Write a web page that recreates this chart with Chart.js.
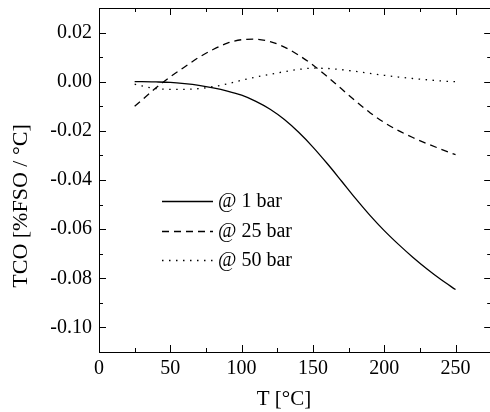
<!DOCTYPE html>
<html>
<head>
<meta charset="utf-8">
<script src="https://cdn.jsdelivr.net/npm/chart.js@4/dist/chart.umd.min.js"></script>
<style>
  html, body { margin: 0; padding: 0; background: #fff; overflow: hidden; }
  #wrap { width: 496px; height: 412px; position: relative; }
</style>
</head>
<body>
<div id="wrap"><canvas id="c"></canvas></div>
<script>
// ---- data ----
const temps = [25,30,40,50,60,70,80,90,100,110,120,130,140,150,160,170,180,190,200,210,220,230,240,250];
const tco1bar  = [0.0000,0.0000,-0.0001,-0.0003,-0.0008,-0.0015,-0.0025,-0.0038,-0.0055,-0.0080,-0.0112,-0.0154,-0.0206,-0.0266,-0.0333,-0.0404,-0.0476,-0.0544,-0.0606,-0.0662,-0.0714,-0.0762,-0.0806,-0.0846];
const tco25bar = [-0.0100,-0.0075,-0.0025,0.0020,0.0060,0.0099,0.0131,0.0157,0.0171,0.0173,0.0163,0.0141,0.0108,0.0068,0.0021,-0.0029,-0.0079,-0.0126,-0.0166,-0.0199,-0.0227,-0.0252,-0.0275,-0.0297];
const tco50bar = [-0.0010,-0.0017,-0.0028,-0.0031,-0.0031,-0.0028,-0.0020,-0.0009,0.0006,0.0019,0.0030,0.0041,0.0050,0.0055,0.0054,0.0049,0.0042,0.0034,0.0026,0.0019,0.0013,0.0008,0.0003,0.0000];
const seriesLabels = ['@ 1 bar', '@ 25 bar', '@ 50 bar'];
const xTicks = [0,50,100,150,200,250];
const xMinorTicks = [25,75,125,175,225];
const yTicks = [0.02,0.00,-0.02,-0.04,-0.06,-0.08,-0.10];
const yMinorTicks = [0.03,0.01,-0.01,-0.03,-0.05,-0.07,-0.09];
const xTitle = 'T [°C]';
const yTitle = 'TCO [%FSO / °C]';

const FONT = '"Liberation Serif", "DejaVu Serif", serif';

const toPts = (ys) => temps.map((t, i) => ({x: t, y: ys[i]}));

const frame = {
  id: 'frame',
  afterDraw(chart) {
    const {ctx, chartArea: a, scales} = chart;
    const xs = scales.x, ys = scales.y;
    ctx.save();
    ctx.strokeStyle = '#000';
    ctx.lineWidth = 1;
    ctx.strokeRect(Math.round(a.left) + 0.5, Math.round(a.top) + 0.5,
                   Math.round(a.right - a.left), Math.round(a.bottom - a.top));
    const tick = (v, len, axis) => {
      ctx.beginPath();
      if (axis === 'x') {
        const p = Math.round(xs.getPixelForValue(v)) + 0.5;
        ctx.moveTo(p, a.bottom); ctx.lineTo(p, a.bottom - len);
        ctx.moveTo(p, a.top); ctx.lineTo(p, a.top + len);
      } else {
        const p = Math.round(ys.getPixelForValue(v)) + 0.5;
        ctx.moveTo(a.left, p); ctx.lineTo(a.left + len, p);
        ctx.moveTo(a.right, p); ctx.lineTo(a.right - len, p);
      }
      ctx.stroke();
    };
    xTicks.forEach(v => tick(v, 7, 'x'));
    xMinorTicks.forEach(v => tick(v, 4, 'x'));
    yTicks.forEach(v => tick(v, 7, 'y'));
    yMinorTicks.forEach(v => tick(v, 4, 'y'));

    // axis titles
    ctx.fillStyle = '#000';
    ctx.font = '21px ' + FONT;
    ctx.textAlign = 'center';
    ctx.textBaseline = 'alphabetic';
    ctx.fillText(xTitle, 284, 405);
    ctx.save();
    ctx.translate(27, 206);
    ctx.rotate(-Math.PI / 2);
    ctx.font = '22px ' + FONT;
    ctx.fillText(yTitle, 0, 0);
    ctx.restore();

    // legend
    const rows = [201, 231, 260];
    chart.data.datasets.forEach((ds, i) => {
      ctx.save();
      ctx.strokeStyle = ds.borderColor;
      ctx.lineWidth = ds.borderWidth;
      ctx.setLineDash(ds.borderDash || []);
      ctx.beginPath();
      ctx.moveTo(162, rows[i] + 0.5);
      ctx.lineTo(213, rows[i] + 0.5);
      ctx.stroke();
      ctx.restore();
      ctx.font = '20px ' + FONT;
      ctx.textAlign = 'left';
      ctx.textBaseline = 'middle';
      ctx.fillText(ds.label, 218, rows[i] + 1);
    });
    ctx.restore();
  }
};

new Chart(document.getElementById('c'), {
  type: 'line',
  data: {
    datasets: [
      { label: seriesLabels[0], data: toPts(tco1bar),  borderColor: '#000', borderWidth: 1.3, borderDash: [], pointRadius: 0, fill: false, cubicInterpolationMode: 'monotone' },
      { label: seriesLabels[1], data: toPts(tco25bar), borderColor: '#000', borderWidth: 1.3, borderDash: [7, 5], pointRadius: 0, fill: false, cubicInterpolationMode: 'monotone' },
      { label: seriesLabels[2], data: toPts(tco50bar), borderColor: '#000', borderWidth: 1.3, borderDash: [1.5, 5.5], pointRadius: 0, fill: false, cubicInterpolationMode: 'monotone' }
    ]
  },
  options: {
    responsive: true,
    maintainAspectRatio: false,
    animation: false,
    devicePixelRatio: 1,
    layout: { padding: { top: 8, right: 4.8, left: 0, bottom: 0 } },
    plugins: { legend: { display: false }, tooltip: { enabled: false } },
    scales: {
      x: {
        type: 'linear', min: 0, max: 275,
        grid: { display: false, drawTicks: false },
        border: { display: false },
        afterBuildTicks: (s) => { s.ticks = xTicks.map(v => ({value: v})); },
        afterFit: (s) => { s.height = 60; s.paddingLeft = 0; s.paddingRight = 0; },
        ticks: { color: '#000', font: { family: FONT, size: 20 }, padding: 5, maxRotation: 0,
                 callback: (v) => String(v) }
      },
      y: {
        type: 'linear', min: -0.11, max: 0.03,
        grid: { display: false, drawTicks: false },
        border: { display: false },
        afterBuildTicks: (s) => { s.ticks = yTicks.map(v => ({value: v})); },
        afterFit: (s) => { s.width = 99; s.paddingTop = 0; s.paddingBottom = 0; },
        ticks: { color: '#000', font: { family: FONT, size: 20 }, padding: 7,
                 callback: (v) => Number(v).toFixed(2) }
      }
    }
  },
  plugins: [frame]
});
</script>
</body>
</html>
